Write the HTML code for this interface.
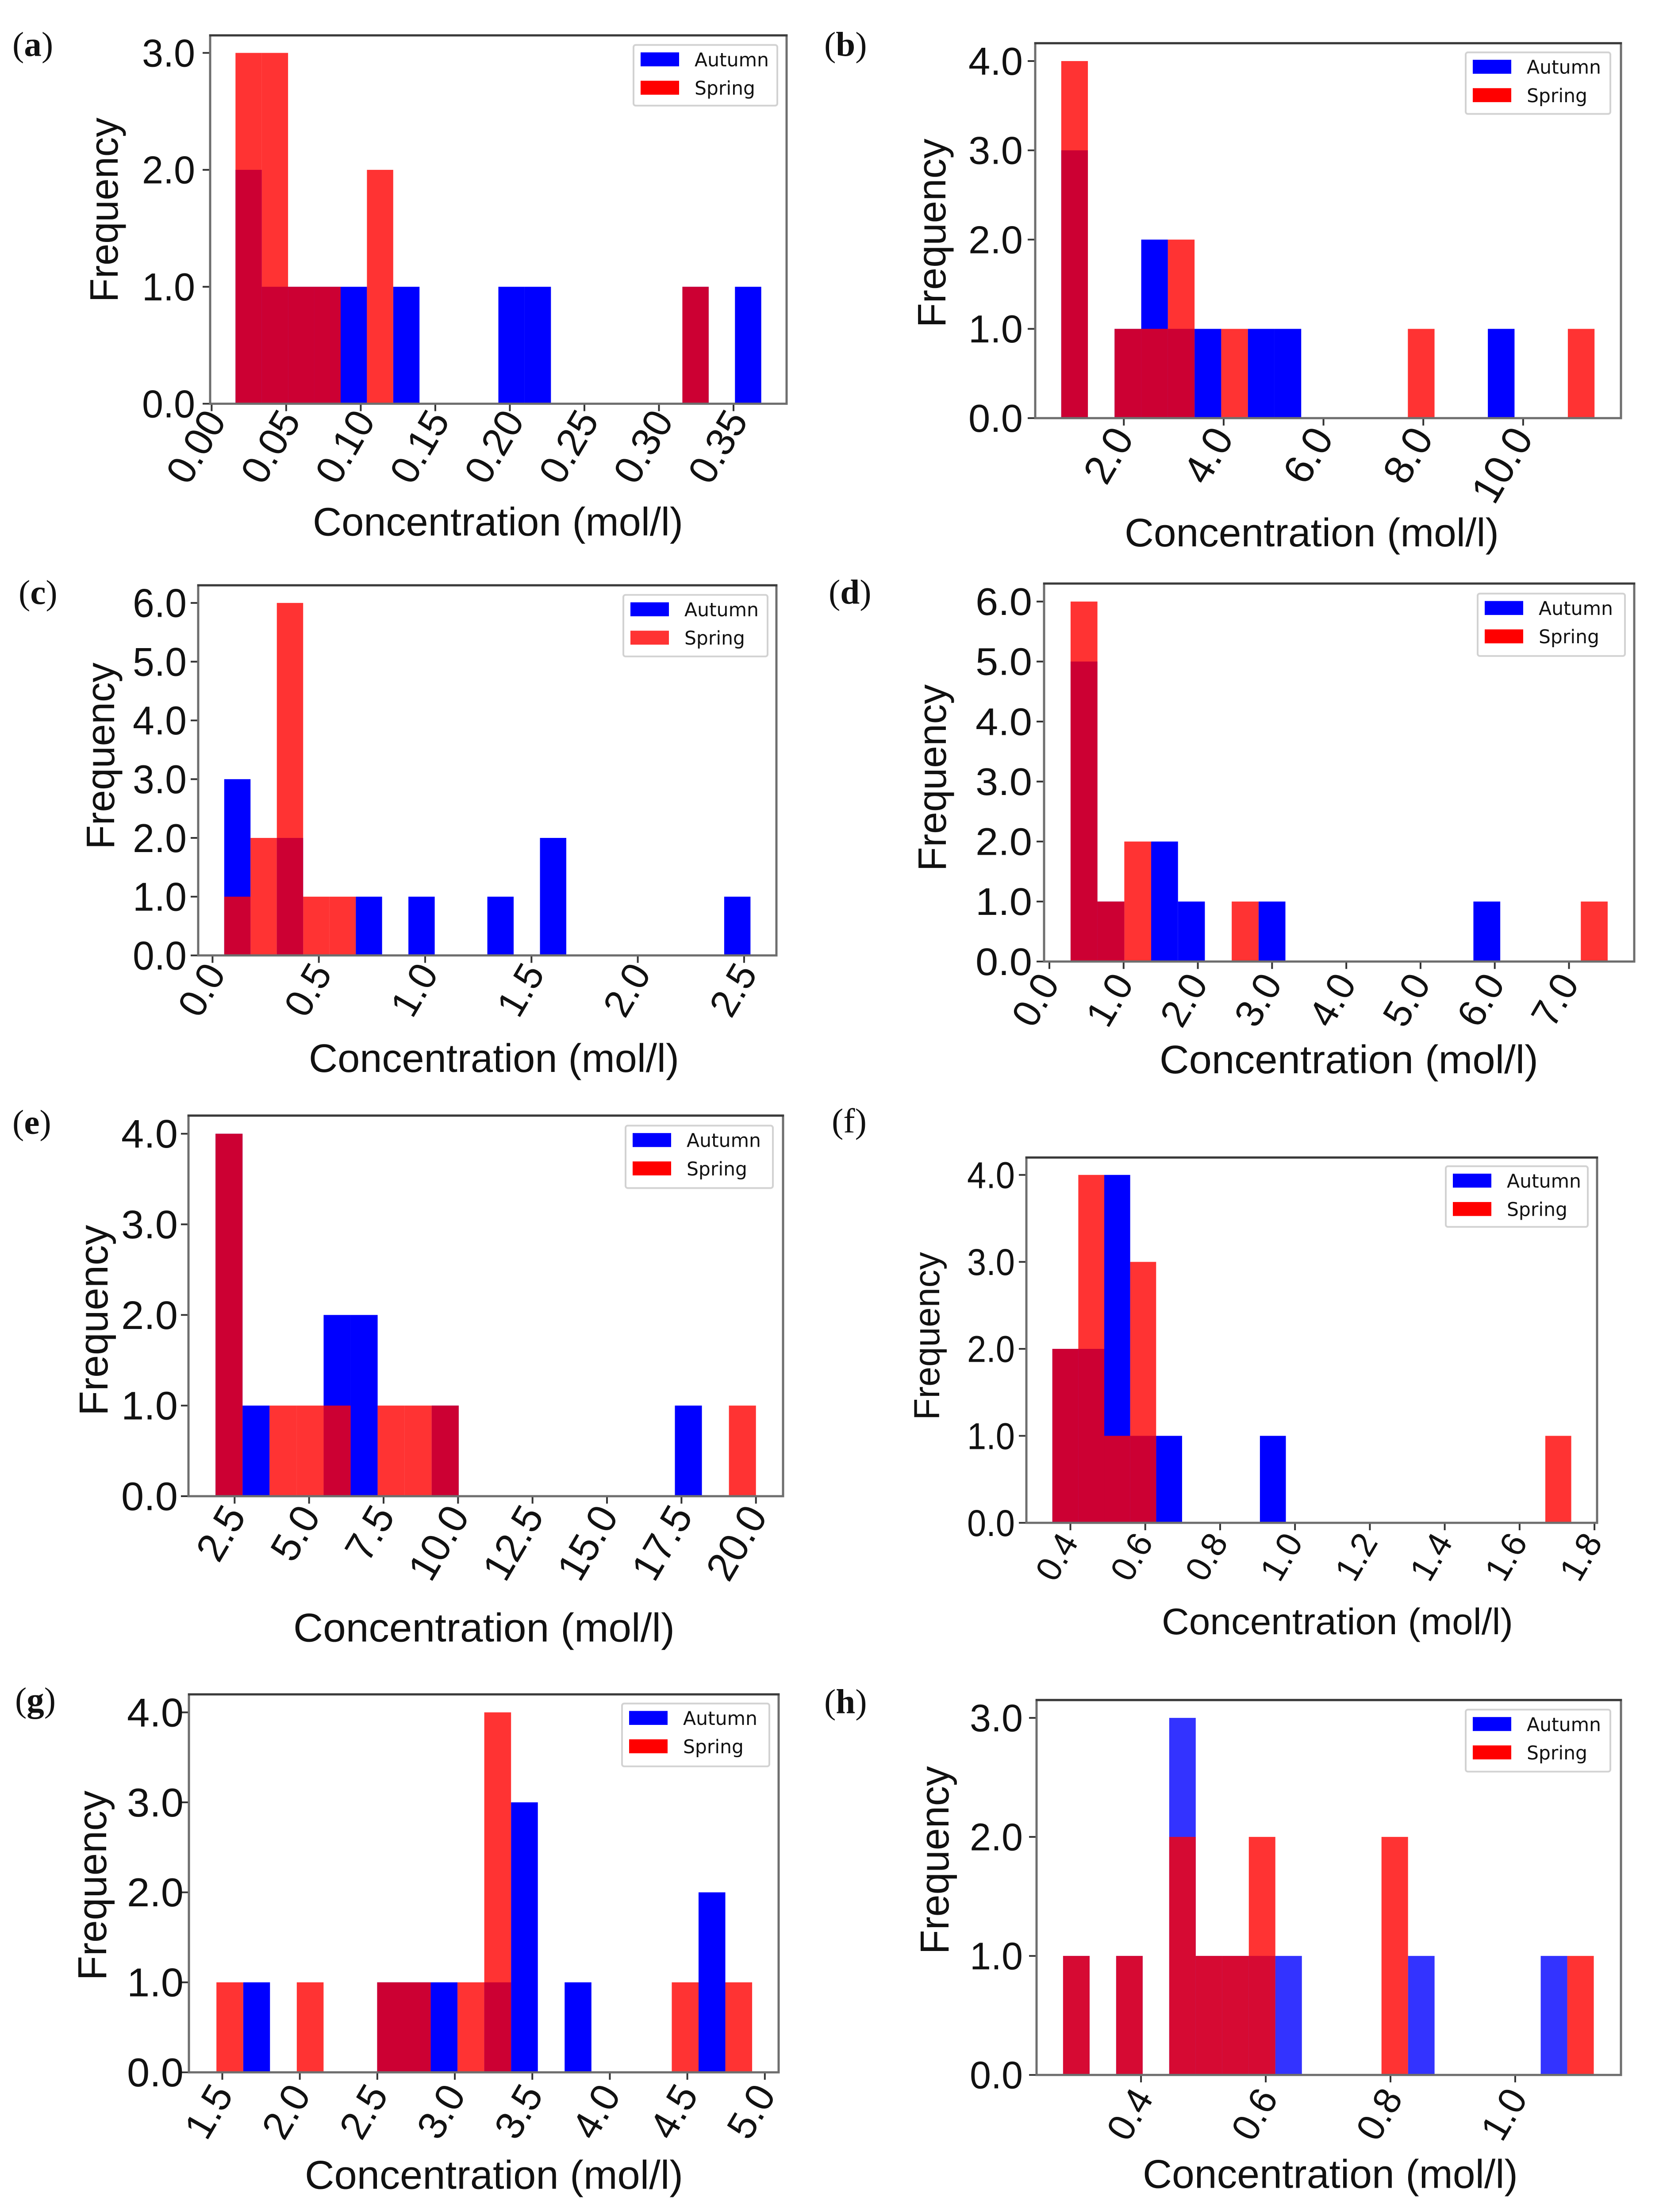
<!DOCTYPE html>
<html lang="en">
<head>
<meta charset="utf-8">
<title>Concentration histograms</title>
<style>
html,body{margin:0;padding:0;background:#fff;width:100%;height:100%;overflow:hidden;}
svg{display:block;width:100vw;height:100vh;}
.sans{font-family:"Liberation Sans",Arial,sans-serif;fill:#111;}
.leg{font-family:"DejaVu Sans",sans-serif;font-size:43px;fill:#111;}
.serif{font-family:"Liberation Serif",serif;font-size:79px;fill:#111;}
.spine{fill:none;stroke:#6e6e6e;stroke-width:5;}
.spine-top{stroke:#3a3a3a;stroke-width:5;}
.legbox{fill:#fff;stroke:#d2d2d2;stroke-width:4;}
</style>
</head>
<body>
<svg xmlns="http://www.w3.org/2000/svg" viewBox="0 0 3759 5068" preserveAspectRatio="none">
  <rect x="0" y="0" width="3759" height="5068" fill="#fff"/>

  <g>
    <text class="serif" x="28" y="128">(<tspan font-weight="bold">a</tspan>)</text>
    <g id="marks-a"></g>
    <rect class="spine" x="475" y="81" width="1303" height="844"/>
    <line class="spine-top" x1="473" y1="81" x2="1780" y2="81"/>
    <text class="sans" font-size="90" text-anchor="middle" textLength="423" lengthAdjust="spacingAndGlyphs" transform="translate(266,481) rotate(-90)">Frequency</text>
    <text class="sans" font-size="91" x="707" y="1227" textLength="837" lengthAdjust="spacingAndGlyphs">Concentration (mol/l)</text>
    <g transform="translate(1432,103)">
      <rect class="legbox" x="0" y="0" width="325" height="139" rx="5"/>
      <rect x="16" y="17" width="87" height="32" fill="#0000ff"/>
      <text class="leg" x="138" y="49" textLength="168" lengthAdjust="spacingAndGlyphs">Autumn</text>
      <rect x="16" y="82" width="87" height="32" fill="#ff0000"/>
      <text class="leg" x="138" y="114" textLength="137" lengthAdjust="spacingAndGlyphs">Spring</text>
    </g>
  </g>

  <g>
    <text class="serif" x="1863" y="128">(<tspan font-weight="bold">b</tspan>)</text>
    <g id="marks-b"></g>
    <rect class="spine" x="2340" y="99" width="1324" height="859"/>
    <line class="spine-top" x1="2338" y1="99" x2="3666" y2="99"/>
    <text class="sans" font-size="90" text-anchor="middle" textLength="433" lengthAdjust="spacingAndGlyphs" transform="translate(2137,534) rotate(-90)">Frequency</text>
    <text class="sans" font-size="91" x="2542" y="1252" textLength="846" lengthAdjust="spacingAndGlyphs">Concentration (mol/l)</text>
    <g transform="translate(3313,120)">
      <rect class="legbox" x="0" y="0" width="327" height="141" rx="5"/>
      <rect x="16" y="17" width="87" height="32" fill="#0000ff"/>
      <text class="leg" x="138" y="49" textLength="168" lengthAdjust="spacingAndGlyphs">Autumn</text>
      <rect x="16" y="82" width="87" height="32" fill="#ff0000"/>
      <text class="leg" x="138" y="114" textLength="137" lengthAdjust="spacingAndGlyphs">Spring</text>
    </g>
  </g>

  <g>
    <text class="serif" x="42" y="1384">(<tspan font-weight="bold">c</tspan>)</text>
    <g id="marks-c"></g>
    <rect class="spine" x="448" y="1341" width="1307" height="848"/>
    <line class="spine-top" x1="446" y1="1341" x2="1757" y2="1341"/>
    <text class="sans" font-size="90" text-anchor="middle" textLength="428" lengthAdjust="spacingAndGlyphs" transform="translate(258,1732) rotate(-90)">Frequency</text>
    <text class="sans" font-size="91" x="698" y="2456" textLength="837" lengthAdjust="spacingAndGlyphs">Concentration (mol/l)</text>
    <g transform="translate(1409,1363)">
      <rect class="legbox" x="0" y="0" width="326" height="141" rx="5"/>
      <rect x="16" y="17" width="87" height="32" fill="#0000ff"/>
      <text class="leg" x="138" y="49" textLength="168" lengthAdjust="spacingAndGlyphs">Autumn</text>
      <rect x="16" y="82" width="87" height="32" fill="#ff3333"/>
      <text class="leg" x="138" y="114" textLength="137" lengthAdjust="spacingAndGlyphs">Spring</text>
    </g>
  </g>

  <g>
    <text class="serif" x="1873" y="1383">(<tspan font-weight="bold">d</tspan>)</text>
    <g id="marks-d"></g>
    <rect class="spine" x="2360" y="1337" width="1334" height="866"/>
    <line class="spine-top" x1="2358" y1="1337" x2="3696" y2="1337"/>
    <text class="sans" font-size="90" text-anchor="middle" textLength="428" lengthAdjust="spacingAndGlyphs" transform="translate(2138,1782) rotate(-90)">Frequency</text>
    <text class="sans" font-size="91" x="2621" y="2459" textLength="856" lengthAdjust="spacingAndGlyphs">Concentration (mol/l)</text>
    <g transform="translate(3340,1360)">
      <rect class="legbox" x="0" y="0" width="333" height="143" rx="5"/>
      <rect x="16" y="17" width="87" height="32" fill="#0000ff"/>
      <text class="leg" x="138" y="49" textLength="168" lengthAdjust="spacingAndGlyphs">Autumn</text>
      <rect x="16" y="82" width="87" height="32" fill="#ff0000"/>
      <text class="leg" x="138" y="114" textLength="137" lengthAdjust="spacingAndGlyphs">Spring</text>
    </g>
  </g>

  <g>
    <text class="serif" x="28" y="2598">(<tspan font-weight="bold">e</tspan>)</text>
    <g id="marks-e"></g>
    <rect class="spine" x="426" y="2556" width="1344" height="872"/>
    <line class="spine-top" x1="424" y1="2556" x2="1772" y2="2556"/>
    <text class="sans" font-size="92" text-anchor="middle" textLength="437" lengthAdjust="spacingAndGlyphs" transform="translate(243,3025) rotate(-90)">Frequency</text>
    <text class="sans" font-size="92" x="663" y="3761" textLength="862" lengthAdjust="spacingAndGlyphs">Concentration (mol/l)</text>
    <g transform="translate(1414,2579)">
      <rect class="legbox" x="0" y="0" width="333" height="143" rx="5"/>
      <rect x="16" y="17" width="87" height="32" fill="#0000ff"/>
      <text class="leg" x="138" y="49" textLength="168" lengthAdjust="spacingAndGlyphs">Autumn</text>
      <rect x="16" y="82" width="87" height="32" fill="#ff0000"/>
      <text class="leg" x="138" y="114" textLength="137" lengthAdjust="spacingAndGlyphs">Spring</text>
    </g>
  </g>

  <g>
    <text class="serif" x="1880" y="2595">(f)</text>
    <g id="marks-f"></g>
    <rect class="spine" x="2320" y="2652" width="1290" height="837"/>
    <line class="spine-top" x1="2318" y1="2652" x2="3612" y2="2652"/>
    <text class="sans" font-size="82" text-anchor="middle" textLength="385" lengthAdjust="spacingAndGlyphs" transform="translate(2123,3061) rotate(-90)">Frequency</text>
    <text class="sans" font-size="85" x="2626" y="3744" textLength="794" lengthAdjust="spacingAndGlyphs">Concentration (mol/l)</text>
    <g transform="translate(3268,2672)">
      <rect class="legbox" x="0" y="0" width="321" height="139" rx="5"/>
      <rect x="16" y="17" width="87" height="32" fill="#0000ff"/>
      <text class="leg" x="138" y="49" textLength="168" lengthAdjust="spacingAndGlyphs">Autumn</text>
      <rect x="16" y="82" width="87" height="32" fill="#ff0000"/>
      <text class="leg" x="138" y="114" textLength="137" lengthAdjust="spacingAndGlyphs">Spring</text>
    </g>
  </g>

  <g>
    <text class="serif" x="34" y="3921">(<tspan font-weight="bold">g</tspan>)</text>
    <g id="marks-g"></g>
    <rect class="spine" x="427" y="3882" width="1333" height="866"/>
    <line class="spine-top" x1="425" y1="3882" x2="1762" y2="3882"/>
    <text class="sans" font-size="92" text-anchor="middle" textLength="435" lengthAdjust="spacingAndGlyphs" transform="translate(240,4320) rotate(-90)">Frequency</text>
    <text class="sans" font-size="92" x="689" y="5015" textLength="855" lengthAdjust="spacingAndGlyphs">Concentration (mol/l)</text>
    <g transform="translate(1406,3903)">
      <rect class="legbox" x="0" y="0" width="333" height="144" rx="5"/>
      <rect x="16" y="17" width="87" height="32" fill="#0000ff"/>
      <text class="leg" x="138" y="49" textLength="168" lengthAdjust="spacingAndGlyphs">Autumn</text>
      <rect x="16" y="82" width="87" height="32" fill="#ff0000"/>
      <text class="leg" x="138" y="114" textLength="137" lengthAdjust="spacingAndGlyphs">Spring</text>
    </g>
  </g>

  <g>
    <text class="serif" x="1863" y="3925">(<tspan font-weight="bold">h</tspan>)</text>
    <g id="marks-h"></g>
    <rect class="spine" x="2343" y="3895" width="1321" height="859"/>
    <line class="spine-top" x1="2341" y1="3895" x2="3666" y2="3895"/>
    <text class="sans" font-size="92" text-anchor="middle" textLength="431" lengthAdjust="spacingAndGlyphs" transform="translate(2144,4262) rotate(-90)">Frequency</text>
    <text class="sans" font-size="92" x="2583" y="5013" textLength="848" lengthAdjust="spacingAndGlyphs">Concentration (mol/l)</text>
    <g transform="translate(3313,3917)">
      <rect class="legbox" x="0" y="0" width="327" height="142" rx="5"/>
      <rect x="16" y="17" width="87" height="32" fill="#0000ff"/>
      <text class="leg" x="138" y="49" textLength="168" lengthAdjust="spacingAndGlyphs">Autumn</text>
      <rect x="16" y="82" width="87" height="32" fill="#ff0000"/>
      <text class="leg" x="138" y="114" textLength="137" lengthAdjust="spacingAndGlyphs">Spring</text>
    </g>
  </g>
</svg>

<script>
/* ---------- data: bin counts per panel (20 shared bins) ---------- */
const aAutumn = [2,1,1,1,1,0,1,0,0,0,1,1,0,0,0,0,0,1,0,1];
const aSpring = [3,3,1,1,0,2,0,0,0,0,0,0,0,0,0,0,0,1,0,0];
const aBinRange = [0.016, 0.3686];
const aXDomain = [-0.001, 0.3856];
const aXTicks = [0, 0.05, 0.10, 0.15, 0.20, 0.25, 0.30, 0.35];
const aXTickLabels = ['0.00','0.05','0.10','0.15','0.20','0.25','0.30','0.35'];
const aYTicks = [0, 1, 2, 3];
const aYTickLabels = ['0.0','1.0','2.0','3.0'];

const bAutumn = [3,0,1,2,1,1,0,1,1,0,0,0,0,0,0,0,1,0,0,0];
const bSpring = [4,0,1,1,2,0,1,0,0,0,0,0,0,1,0,0,0,0,0,1];
const bBinRange = [0.746, 11.43];
const bXDomain = [0.225, 11.96];
const bXTicks = [2, 4, 6, 8, 10];
const bXTickLabels = ['2.0','4.0','6.0','8.0','10.0'];
const bYTicks = [0, 1, 2, 3, 4];
const bYTickLabels = ['0.0','1.0','2.0','3.0','4.0'];

const cAutumn = [3,0,2,0,0,1,0,1,0,0,1,0,2,0,0,0,0,0,0,1];
const cSpring = [1,2,6,1,1,0,0,0,0,0,0,0,0,0,0,0,0,0,0,0];
const cBinRange = [0.0549, 2.530];
const cXDomain = [-0.0674, 2.652];
const cXTicks = [0, 0.5, 1.0, 1.5, 2.0, 2.5];
const cXTickLabels = ['0.0','0.5','1.0','1.5','2.0','2.5'];
const cYTicks = [0, 1, 2, 3, 4, 5, 6];
const cYTickLabels = ['0.0','1.0','2.0','3.0','4.0','5.0','6.0'];

const dAutumn = [5,1,0,2,1,0,0,1,0,0,0,0,0,0,0,1,0,0,0,0];
const dSpring = [6,1,2,0,0,0,1,0,0,0,0,0,0,0,0,0,0,0,0,1];
const dBinRange = [0.2857, 7.521];
const dXDomain = [-0.0714, 7.879];
const dXTicks = [0, 1, 2, 3, 4, 5, 6, 7];
const dXTickLabels = ['0.0','1.0','2.0','3.0','4.0','5.0','6.0','7.0'];
const dYTicks = [0, 1, 2, 3, 4, 5, 6];
const dYTickLabels = ['0.0','1.0','2.0','3.0','4.0','5.0','6.0'];

const eAutumn = [4,1,0,0,2,2,0,0,1,0,0,0,0,0,0,0,0,1,0,0];
const eSpring = [4,0,1,1,1,0,1,1,1,0,0,0,0,0,0,0,0,0,0,1];
const eBinRange = [1.859, 20.0];
const eXDomain = [0.951, 20.91];
const eXTicks = [2.5, 5, 7.5, 10, 12.5, 15, 17.5, 20];
const eXTickLabels = ['2.5','5.0','7.5','10.0','12.5','15.0','17.5','20.0'];
const eYTicks = [0, 1, 2, 3, 4];
const eYTickLabels = ['0.0','1.0','2.0','3.0','4.0'];

const fAutumn = [2,2,4,1,1,0,0,0,1,0,0,0,0,0,0,0,0,0,0,0];
const fSpring = [2,4,1,3,0,0,0,0,0,0,0,0,0,0,0,0,0,0,0,1];
const fBinRange = [0.3518, 1.738];
const fXDomain = [0.2824, 1.807];
const fXTicks = [0.4, 0.6, 0.8, 1.0, 1.2, 1.4, 1.6, 1.8];
const fXTickLabels = ['0.4','0.6','0.8','1.0','1.2','1.4','1.6','1.8'];
const fYTicks = [0, 1, 2, 3, 4];
const fYTickLabels = ['0.0','1.0','2.0','3.0','4.0'];

const gAutumn = [0,1,0,0,0,0,1,1,1,0,1,3,0,1,0,0,0,0,2,0];
const gSpring = [1,0,0,1,0,0,1,1,0,1,4,0,0,0,0,0,0,1,0,1];
const gBinRange = [1.462, 4.918];
const gXDomain = [1.2845, 5.089];
const gXTicks = [1.5, 2, 2.5, 3, 3.5, 4, 4.5, 5];
const gXTickLabels = ['1.5','2.0','2.5','3.0','3.5','4.0','4.5','5.0'];
const gYTicks = [0, 1, 2, 3, 4];
const gYTickLabels = ['0.0','1.0','2.0','3.0','4.0'];

const hAutumn = [1,0,1,0,3,1,1,1,1,0,0,0,0,1,0,0,0,0,1,0];
const hSpring = [1,0,1,0,2,1,1,2,0,0,0,0,2,0,0,0,0,0,0,1];
const hBinRange = [0.275, 1.126];
const hXDomain = [0.2325, 1.1696];
const hXTicks = [0.4, 0.6, 0.8, 1.0];
const hXTickLabels = ['0.4','0.6','0.8','1.0'];
const hYTicks = [0, 1, 2, 3];
const hYTickLabels = ['0.0','1.0','2.0','3.0'];

/* ---------- layout (separate from data) ---------- */
const SVG_NS = 'http://www.w3.org/2000/svg';
const panelLayouts = [
  {id:'a',l:475,r:1778,t:81,b:925,yLabelRight:441,yLabelWidth:120,yFont:89,xFont:90,dx:35,dy:38,blueAlpha:1},
  {id:'b',l:2340,r:3664,t:99,b:958,yLabelRight:2312,yLabelWidth:123,yFont:89,xFont:93,dx:25,dy:45,blueAlpha:1},
  {id:'c',l:448,r:1755,t:1341,b:2189,yLabelRight:422,yLabelWidth:122,yFont:92,xFont:88,dx:32,dy:41,blueAlpha:1},
  {id:'d',l:2360,r:3694,t:1337,b:2203,yLabelRight:2333,yLabelWidth:128,yFont:88,xFont:88,dx:25,dy:50,blueAlpha:1},
  {id:'e',l:426,r:1770,t:2556,b:3428,yLabelRight:402,yLabelWidth:128,yFont:91,xFont:92,dx:28,dy:45,blueAlpha:1},
  {id:'f',l:2320,r:3610,t:2652,b:3489,yLabelRight:2294,yLabelWidth:108,yFont:86,xFont:79,dx:20,dy:44,blueAlpha:1},
  {id:'g',l:427,r:1760,t:3882,b:4748,yLabelRight:415,yLabelWidth:128,yFont:92,xFont:90,dx:27,dy:51,blueAlpha:1},
  {id:'h',l:2343,r:3664,t:3895,b:4754,yLabelRight:2312,yLabelWidth:120,yFont:88,xFont:86,dx:30,dy:53,blueAlpha:0.8}
];
const panelData = {
  a:{autumn:aAutumn,spring:aSpring,bins:aBinRange,xDomain:aXDomain,xTicks:aXTicks,xLabels:aXTickLabels,yTicks:aYTicks,yLabels:aYTickLabels},
  b:{autumn:bAutumn,spring:bSpring,bins:bBinRange,xDomain:bXDomain,xTicks:bXTicks,xLabels:bXTickLabels,yTicks:bYTicks,yLabels:bYTickLabels},
  c:{autumn:cAutumn,spring:cSpring,bins:cBinRange,xDomain:cXDomain,xTicks:cXTicks,xLabels:cXTickLabels,yTicks:cYTicks,yLabels:cYTickLabels},
  d:{autumn:dAutumn,spring:dSpring,bins:dBinRange,xDomain:dXDomain,xTicks:dXTicks,xLabels:dXTickLabels,yTicks:dYTicks,yLabels:dYTickLabels},
  e:{autumn:eAutumn,spring:eSpring,bins:eBinRange,xDomain:eXDomain,xTicks:eXTicks,xLabels:eXTickLabels,yTicks:eYTicks,yLabels:eYTickLabels},
  f:{autumn:fAutumn,spring:fSpring,bins:fBinRange,xDomain:fXDomain,xTicks:fXTicks,xLabels:fXTickLabels,yTicks:fYTicks,yLabels:fYTickLabels},
  g:{autumn:gAutumn,spring:gSpring,bins:gBinRange,xDomain:gXDomain,xTicks:gXTicks,xLabels:gXTickLabels,yTicks:gYTicks,yLabels:gYTickLabels},
  h:{autumn:hAutumn,spring:hSpring,bins:hBinRange,xDomain:hXDomain,xTicks:hXTicks,xLabels:hXTickLabels,yTicks:hYTicks,yLabels:hYTickLabels}
};

function drawBars(group, layout, counts, bins, xScale, yScale, fill, opacity, seriesName) {
  const width = (bins[1] - bins[0]) / counts.length;
  counts.forEach(function (count, i) {
    if (count <= 0) { return; }
    const x0 = xScale(bins[0] + i * width);
    const x1 = xScale(bins[0] + (i + 1) * width);
    const el = document.createElementNS(SVG_NS, 'rect');
    
    
    el.setAttribute('x', x0);
    el.setAttribute('y', yScale(count));
    el.setAttribute('width', x1 - x0);
    el.setAttribute('height', yScale(0) - yScale(count));
    el.setAttribute('fill', fill);
    el.setAttribute('fill-opacity', opacity);
    group.appendChild(el);
  });
}

function drawPanel(layout) {
  const data = panelData[layout.id];
  const group = document.getElementById('marks-' + layout.id);
  const yMax = Math.max.apply(null, data.autumn.concat(data.spring)) * 1.05;
  const xScale = function (v) {
    return layout.l + (v - data.xDomain[0]) / (data.xDomain[1] - data.xDomain[0]) * (layout.r - layout.l);
  };
  const yScale = function (v) {
    return layout.b - v / yMax * (layout.b - layout.t);
  };

  drawBars(group, layout, data.autumn, data.bins, xScale, yScale, '#0000ff', layout.blueAlpha, 'autumn');
  drawBars(group, layout, data.spring, data.bins, xScale, yScale, '#ff0000', 0.8, 'spring');

  data.yTicks.forEach(function (v, i) {
    const y = yScale(v);
    const tick = document.createElementNS(SVG_NS, 'line');
    
    
    tick.setAttribute('x1', layout.l - 17);
    tick.setAttribute('x2', layout.l);
    tick.setAttribute('y1', y);
    tick.setAttribute('y2', y);
    tick.setAttribute('stroke', '#333');
    tick.setAttribute('stroke-width', '4');
    group.appendChild(tick);

    const label = document.createElementNS(SVG_NS, 'text');
    
    
    label.setAttribute('class', 'sans');
    label.setAttribute('font-size', layout.yFont);
    label.setAttribute('text-anchor', 'end');
    label.setAttribute('x', layout.yLabelRight);
    label.setAttribute('y', y + layout.yFont * 0.35);
    label.setAttribute('textLength', layout.yLabelWidth);
    label.setAttribute('lengthAdjust', 'spacingAndGlyphs');
    label.textContent = data.yLabels[i];
    group.appendChild(label);
  });

  data.xTicks.forEach(function (v, i) {
    const x = xScale(v);
    const tick = document.createElementNS(SVG_NS, 'line');
    
    
    tick.setAttribute('x1', x);
    tick.setAttribute('x2', x);
    tick.setAttribute('y1', layout.b);
    tick.setAttribute('y2', layout.b + 17);
    tick.setAttribute('stroke', '#333');
    tick.setAttribute('stroke-width', '4');
    group.appendChild(tick);

    const label = document.createElementNS(SVG_NS, 'text');
    
    
    label.setAttribute('class', 'sans');
    label.setAttribute('font-size', layout.xFont);
    label.setAttribute('text-anchor', 'end');
    label.setAttribute('transform', 'translate(' + (x + layout.dx) + ',' + (layout.b + layout.dy) + ') rotate(-60)');
    label.textContent = data.xLabels[i];
    group.appendChild(label);
  });
}

panelLayouts.forEach(drawPanel);
</script>
</body>
</html>
